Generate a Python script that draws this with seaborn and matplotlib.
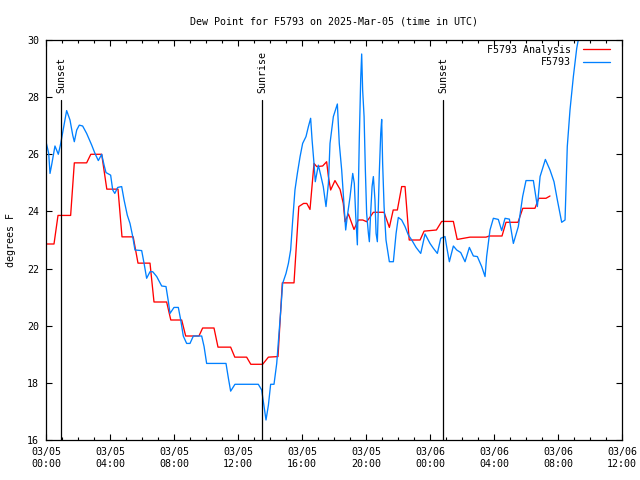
import seaborn as sns
import matplotlib.pyplot as plt
import matplotlib.ticker as ticker
import pandas as pd

sns.set_theme(style="ticks")
plt.rcParams.update({'font.family': 'DejaVu Sans Mono', 'font.size': 7.2,
                     'text.color': 'black', 'axes.labelcolor': 'black'})

## data (hours since 03/05 00:00 UTC, degrees F)
analysis_hours = [0, 0.5, 0.75, 1.54, 1.77, 2.54, 2.8, 3.48, 3.8, 4.5, 4.75, 5.45, 5.75, 6.5, 6.75,
                  7.54, 7.8, 8.48, 8.73, 9.56, 9.79, 10.5, 10.75, 11.54, 11.8, 12.54, 12.8, 13.54,
                  13.9, 14.5, 14.77, 15.5, 15.8, 16.1, 16.3, 16.5, 16.75, 16.92, 17.29, 17.54, 17.65,
                  17.79, 18.06, 18.38, 18.58, 18.69, 18.9, 19.25, 19.52, 19.8, 20.04, 20.25, 20.46,
                  21.13, 21.46, 21.7, 21.96, 22.23, 22.44, 22.7, 23.38, 23.63, 24.4, 24.73, 25.46,
                  25.7, 26.5, 27.5, 27.7, 28.5, 28.75, 29.5, 29.8, 30.56, 30.8, 31.25, 31.5]
analysis_dewpt = [22.86, 22.86, 23.86, 23.86, 25.7, 25.7, 26.0, 26.0, 24.78, 24.78, 23.11, 23.11,
                  22.19, 22.19, 20.83, 20.83, 20.2, 20.2, 19.64, 19.64, 19.92, 19.92, 19.25, 19.25,
                  18.9, 18.9, 18.65, 18.65, 18.9, 18.92, 21.5, 21.5, 24.17, 24.28, 24.28, 24.07,
                  25.68, 25.57, 25.59, 25.74, 25.22, 24.75, 25.08, 24.77, 24.28, 23.64, 23.91, 23.37,
                  23.7, 23.7, 23.64, 23.8, 23.97, 23.97, 23.44, 24.05, 24.05, 24.87, 24.87, 23.0,
                  23.0, 23.31, 23.35, 23.65, 23.65, 23.02, 23.1, 23.1, 23.14, 23.14, 23.62, 23.62,
                  24.11, 24.11, 24.46, 24.46, 24.54]

obs_hours = [0, 0.17, 0.25, 0.35, 0.46, 0.56, 0.77, 0.92, 1.08, 1.29, 1.5, 1.67, 1.77, 1.92, 2.08,
             2.29, 2.54, 2.85, 3.06, 3.27, 3.48, 3.63, 3.75, 4.04, 4.17, 4.3, 4.48, 4.73, 4.88, 5.08,
             5.25, 5.42, 5.56, 5.98, 6.13, 6.29, 6.5, 6.67, 6.92, 7.23, 7.5, 7.65, 7.75, 8.0, 8.27,
             8.42, 8.58, 8.79, 9.0, 9.21, 9.73, 9.88, 10.04, 11.25, 11.4, 11.54, 11.81, 13.27,
             13.48, 13.63, 13.75, 13.9, 14.04, 14.25, 14.42, 14.58, 14.69, 14.79, 15.0, 15.15,
             15.29, 15.42, 15.56, 15.71, 15.88, 16.04, 16.25, 16.4, 16.54, 16.63, 16.75, 16.83,
             17.02, 17.17, 17.33, 17.5, 17.65, 17.75, 17.96, 18.21, 18.33, 18.48, 18.63, 18.73,
             18.83, 19.0, 19.17, 19.27, 19.36, 19.46, 19.58, 19.67, 19.73, 19.79, 19.88, 19.96,
             20.04, 20.15, 20.21, 20.29, 20.38, 20.46, 20.56, 20.63, 20.71, 20.83, 20.92, 20.98,
             21.04, 21.13, 21.25, 21.46, 21.71, 21.88, 22.02, 22.23, 22.44, 22.65, 22.86, 23.13,
             23.42, 23.69, 24.0, 24.21, 24.46, 24.67, 24.94, 25.04, 25.21, 25.46, 25.67, 25.92,
             26.19, 26.46, 26.71, 26.96, 27.23, 27.44, 27.54, 27.75, 27.96, 28.27, 28.48, 28.69,
             28.96, 29.21, 29.52, 29.79, 30.0, 30.46, 30.71, 30.88, 31.04, 31.21, 31.5, 31.75,
             31.96, 32.23, 32.44, 32.58, 32.75, 32.96, 33.17, 33.3]
obs_dewpt = [26.44, 26.03, 25.33, 25.62, 25.97, 26.29, 26.0, 26.38, 26.87, 27.53, 27.2, 26.67,
             26.44, 26.85, 27.02, 26.99, 26.73, 26.33, 26.03, 25.78, 26.0, 25.62, 25.36, 25.27,
             24.75, 24.63, 24.84, 24.87, 24.4, 23.87, 23.58, 23.12, 22.65, 22.63, 22.18, 21.66,
             21.89, 21.89, 21.72, 21.39, 21.37, 20.84, 20.43, 20.64, 20.64, 20.2, 19.64, 19.38,
             19.38, 19.64, 19.64, 19.27, 18.68, 18.68, 18.16, 17.71, 17.95, 17.95, 17.75, 17.16,
             16.7, 17.22, 17.95, 17.95, 18.68, 19.85, 20.67, 21.48, 21.83, 22.18, 22.65, 23.7,
             24.75, 25.33, 25.92, 26.38, 26.62, 26.97, 27.26, 26.5, 25.68, 25.04, 25.62, 25.27,
             24.87, 24.17, 24.98, 26.38, 27.32, 27.76, 26.38, 25.45, 24.17, 23.35, 23.82, 24.5,
             25.33, 24.98, 23.82, 22.83, 26.5, 28.66, 29.51, 28.25, 27.32, 25.45, 23.93, 23.23,
             22.94, 23.93, 24.87, 25.22, 24.4, 23.23, 22.94, 25.33, 26.73, 27.22, 25.68, 24.17,
             23.0, 22.24, 22.24, 23.23, 23.79, 23.7, 23.47, 23.17, 23.0, 22.74, 22.53, 23.21,
             22.88, 22.71, 22.53, 23.06, 23.12, 22.77, 22.24, 22.79, 22.65, 22.56, 22.24, 22.74,
             22.44, 22.42, 22.07, 21.72, 22.42, 23.35, 23.76, 23.72, 23.33, 23.76, 23.73, 22.88,
             23.47, 24.52, 25.08, 25.08, 24.17, 25.22, 25.51, 25.82, 25.45, 25.04, 24.4, 23.62,
             23.7, 26.27, 27.55, 28.72, 29.71, 30.1]

sun_hours = [0.94, 13.5, 24.81]
sun_labels = ["Sunset", "Sunrise", "Sunset"]

tick_hours = [0, 4, 8, 12, 16, 20, 24, 28, 32, 36]
tick_labels = ["03/05\n00:00", "03/05\n04:00", "03/05\n08:00", "03/05\n12:00", "03/05\n16:00",
               "03/05\n20:00", "03/06\n00:00", "03/06\n04:00", "03/06\n08:00", "03/06\n12:00"]

analysis = pd.DataFrame({"hour": analysis_hours, "dewpt": analysis_dewpt})
obs = pd.DataFrame({"hour": obs_hours, "dewpt": obs_dewpt})

fig, ax = plt.subplots(figsize=(6.4, 4.8), dpi=100)
fig.subplots_adjust(left=46/640, right=622/640, bottom=40/480, top=440/480)

sns.lineplot(x="hour", y="dewpt", data=analysis, ax=ax, color="red", lw=0.95,
             estimator=None, sort=False, label="F5793 Analysis")
sns.lineplot(x="hour", y="dewpt", data=obs, ax=ax, color="#0080ff", lw=0.95,
             estimator=None, sort=False, label="F5793")

#--sunrise / sunset markers
for h, lab in zip(sun_hours, sun_labels):
    ax.plot([h, h], [16, 27.9], color="black", lw=0.9)
    ax.text(h, 28.15, lab, rotation=90, ha="center", va="bottom", fontsize=7.2)

ax.set_xlim(0, 36)
ax.set_ylim(16, 30)
ax.set_xticks(tick_hours)
ax.set_xticklabels(tick_labels)
ax.xaxis.set_minor_locator(ticker.MultipleLocator(1))
ax.set_yticks(range(16, 31, 2))
ax.tick_params(which="both", direction="in", top=True, right=True, colors="black",
               labelsize=7.2, width=0.8)
ax.tick_params(which="major", length=4.5, pad=5)
ax.tick_params(which="minor", length=2.5)
for sp in ax.spines.values():
    sp.set_color("black")
    sp.set_linewidth(0.9)

ax.set_xlabel("")
ax.set_ylabel("degrees F", fontsize=7.2, labelpad=8)
ax.set_title("Dew Point for F5793 on 2025-Mar-05 (time in UTC)", fontsize=7.2, pad=11.5)

ax.legend(loc="upper right", bbox_to_anchor=(1.0, 1.018), frameon=False, markerfirst=False,
          fontsize=7.2, handlelength=2.7, handletextpad=1.2, borderaxespad=0.8, labelspacing=0.25)

fig.savefig("out.png", dpi=100)
plt.close()
